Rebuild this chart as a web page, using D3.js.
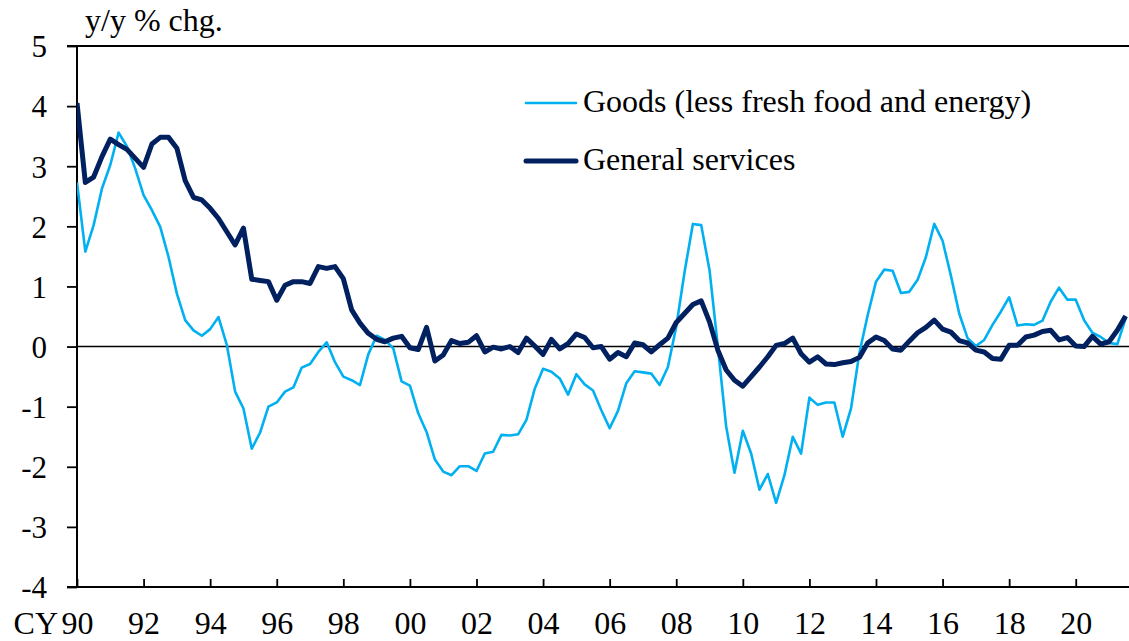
<!DOCTYPE html>
<html>
<head>
<meta charset="utf-8">
<title>Goods and general services, y/y % chg.</title>
<script src="https://cdn.jsdelivr.net/npm/d3@7/dist/d3.min.js"></script>
<style>
    body { margin: 0; background: #fff; }
    svg text { font-family: "Liberation Serif", "Times New Roman", serif; fill: #000; }
</style>
</head>
<body>
<svg id="chart" width="1129" height="641"></svg>
<script>
/*
 * Quarterly y/y % change, CY1990 Q1 onward.
 */

// Some global values
var startYear = 1990;
var yTicks = [-4, -3, -2, -1, 0, 1, 2, 3, 4, 5];
var xTicks = [1990, 1992, 1994, 1996, 1998, 2000, 2002, 2004, 2006, 2008,
              2010, 2012, 2014, 2016, 2018, 2020];
var seriesNames = ["Goods (less fresh food and energy)", "General services"];

var goods = [
    2.73, 1.58, 2.02, 2.63, 3.02, 3.56, 3.33, 2.96, 2.52, 2.27,
    1.99, 1.49, 0.88, 0.44, 0.27, 0.18, 0.29, 0.49, 0.03, -0.75,
    -1.03, -1.70, -1.43, -1.00, -0.93, -0.75, -0.68, -0.35, -0.29, -0.09,
    0.07, -0.26, -0.50, -0.56, -0.64, -0.13, 0.18, 0.11, -0.03, -0.58,
    -0.65, -1.11, -1.42, -1.88, -2.08, -2.14, -1.99, -1.99, -2.07, -1.78,
    -1.75, -1.47, -1.48, -1.46, -1.22, -0.70, -0.37, -0.42, -0.53, -0.80,
    -0.46, -0.63, -0.73, -1.06, -1.36, -1.07, -0.61, -0.41, -0.43, -0.45,
    -0.64, -0.34, 0.33, 1.24, 2.04, 2.02, 1.27, 0.00, -1.33, -2.10,
    -1.40, -1.78, -2.38, -2.12, -2.60, -2.14, -1.50, -1.78, -0.85, -0.97,
    -0.93, -0.93, -1.50, -1.03, -0.11, 0.52, 1.08, 1.28, 1.26, 0.89,
    0.91, 1.11, 1.49, 2.04, 1.76, 1.18, 0.55, 0.14, 0.01, 0.11,
    0.36, 0.58, 0.82, 0.35, 0.37, 0.36, 0.43, 0.75, 0.98, 0.78,
    0.78, 0.44, 0.23, 0.16, 0.06, 0.04, 0.47
];

var services = [
    4.05, 2.73, 2.82, 3.16, 3.45, 3.36, 3.28, 3.13, 2.98, 3.37,
    3.48, 3.48, 3.30, 2.76, 2.48, 2.44, 2.30, 2.13, 1.91, 1.69,
    1.97, 1.12, 1.10, 1.08, 0.77, 1.02, 1.08, 1.08, 1.05, 1.33,
    1.30, 1.33, 1.13, 0.61, 0.39, 0.22, 0.12, 0.08, 0.14, 0.17,
    -0.02, -0.05, 0.32, -0.24, -0.14, 0.10, 0.05, 0.07, 0.18, -0.09,
    -0.01, -0.04, 0.00, -0.10, 0.14, 0.01, -0.13, 0.12, -0.04, 0.05,
    0.21, 0.15, -0.02, 0.00, -0.21, -0.10, -0.17, 0.06, 0.03, -0.09,
    0.03, 0.14, 0.40, 0.55, 0.70, 0.76, 0.41, -0.06, -0.39, -0.56,
    -0.66, -0.50, -0.34, -0.17, 0.02, 0.05, 0.14, -0.12, -0.26, -0.17,
    -0.29, -0.30, -0.27, -0.25, -0.18, 0.06, 0.16, 0.10, -0.04, -0.06,
    0.09, 0.23, 0.32, 0.44, 0.29, 0.24, 0.10, 0.06, -0.06, -0.09,
    -0.20, -0.21, 0.02, 0.02, 0.16, 0.19, 0.25, 0.27, 0.11, 0.15,
    0.01, 0.00, 0.17, 0.04, 0.08, 0.27, 0.51
];

// quarter positions, 1990 Q1 = 1990.0
var quarters = goods.map(function(d, i) { return startYear + i / 4; });


/* ==========================================================================
 * Chart
 * ========================================================================== */

var svg = d3.select("#chart");
var plotL = 77, plotR = 1129, plotT = 46, plotB = 587;

var x = d3.scaleLinear().domain([1990, 2021.6]).range([plotL, plotR]);
var y = d3.scaleLinear().domain([-4, 5]).range([plotB, plotT]);

function drawAxes() {
    // top frame line at 5
    svg.append("line")
        .attr("x1", plotL - 10).attr("x2", plotR)
        .attr("y1", y(5)).attr("y2", y(5))
        .attr("stroke", "#000").attr("stroke-width", 1.8);

    var yAxis = svg.append("g")
        .attr("transform", "translate(" + plotL + ",0)")
        .call(d3.axisLeft(y).tickValues(yTicks).tickSize(10)
              .tickFormat(function(d) { return String(d); }));
    yAxis.select(".domain").remove();
    yAxis.selectAll("line").attr("stroke-width", 1.8);
    yAxis.selectAll("text")
        .attr("x", -30).attr("dy", "0.35em")
        .style("font-size", "31px");

    var xAxis = svg.append("g")
        .attr("transform", "translate(0," + plotB + ")")
        .call(d3.axisBottom(x).tickValues(xTicks).tickSize(-8)
              .tickFormat(function(d) { return d3.format("02d")(d % 100); }));
    xAxis.select(".domain").remove();
    xAxis.selectAll("line").attr("stroke-width", 1.8);
    xAxis.selectAll("text")
        .attr("y", 47).attr("dy", null)
        .style("font-size", "32px");

    // axis lines
    svg.append("line")
        .attr("x1", plotL - 10).attr("x2", plotR)
        .attr("y1", plotB).attr("y2", plotB)
        .attr("stroke", "#000").attr("stroke-width", 2);
    svg.append("line")
        .attr("x1", plotL).attr("x2", plotL)
        .attr("y1", plotT).attr("y2", plotB)
        .attr("stroke", "#000").attr("stroke-width", 2);

    // zero line
    svg.append("line")
        .attr("x1", plotL).attr("x2", plotR)
        .attr("y1", y(0)).attr("y2", y(0))
        .attr("stroke", "#000").attr("stroke-width", 1.6);

    svg.append("text")
        .attr("x", 58).attr("y", 634)
        .attr("text-anchor", "end")
        .style("font-size", "32px")
        .text("CY");

    svg.append("text")
        .attr("x", 85).attr("y", 31)
        .style("font-size", "32px")
        .text("y/y % chg.");
}

function drawLines() {
    svg.append("clipPath").attr("id", "plot-clip")
        .append("rect")
        .attr("x", plotL).attr("y", 0)
        .attr("width", plotR - plotL).attr("height", 641);

    var line = d3.line()
        .x(function(d, i) { return x(quarters[i]); })
        .y(function(d) { return y(d); });

    svg.append("path")
        .datum(goods)
        .attr("clip-path", "url(#plot-clip)")
        .attr("fill", "none")
        .attr("stroke", "#00B0F0")
        .attr("stroke-width", 2.6)
        .attr("stroke-linejoin", "round")
        .attr("d", line);

    svg.append("path")
        .datum(services)
        .attr("clip-path", "url(#plot-clip)")
        .attr("fill", "none")
        .attr("stroke", "#002060")
        .attr("stroke-width", 5)
        .attr("stroke-linejoin", "round")
        .attr("d", line);
}

function drawLegend() {
    var items = [
        { name: seriesNames[0], color: "#00B0F0", w: 2.6, ly: 103, ty: 112 },
        { name: seriesNames[1], color: "#002060", w: 5, ly: 161, ty: 170 }
    ];
    var g = svg.append("g");
    items.forEach(function(it) {
        g.append("line")
            .attr("x1", 526).attr("x2", 576)
            .attr("y1", it.ly).attr("y2", it.ly)
            .attr("stroke", it.color)
            .attr("stroke-width", it.w)
            .attr("stroke-linecap", "round");
        g.append("text")
            .attr("x", 583).attr("y", it.ty)
            .style("font-size", "32px")
            .text(it.name);
    });
}

drawAxes();
drawLines();
drawLegend();
</script>
</body>
</html>
